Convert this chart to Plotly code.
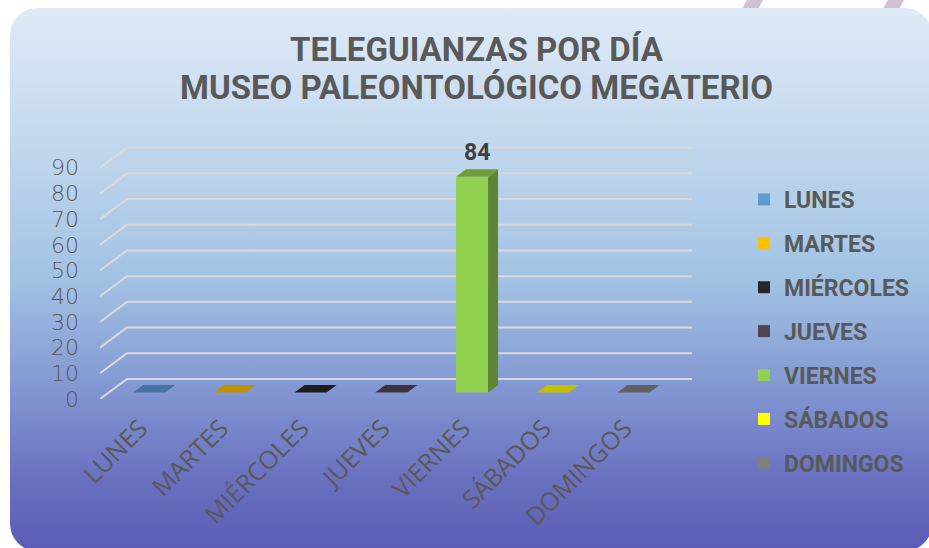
import base64
import plotly.graph_objects as go

# ---------------- data ----------------
categories = ["LUNES", "MARTES", "MIÉRCOLES", "JUEVES", "VIERNES", "SÁBADOS", "DOMINGOS"]
values = [0, 0, 0, 0, 84, 0, 0]
colors = ["#5b9bd5", "#ffc000", "#262626", "#4f4454", "#92d050", "#ffff00", "#7f7f7f"]
y_ticks = [0, 10, 20, 30, 40, 50, 60, 70, 80, 90]
title_lines = ["TELEGUIANZAS POR DÍA", "MUSEO PALEONTOLÓGICO MEGATERIO"]

# ---------------- geometry (pseudo-3D) ----------------
W, H = 929, 548
ML, MR, MT, MB = 100, 237, 142, 149
PW, PH = W - ML - MR, H - MT - MB
Y_MAX = 100
DX = 0.3346          # floor depth in category units
DY = 7.8             # floor depth in value units
XO, ZO = 0.109, 2.5  # bar front offset inside floor
BW = 0.397           # bar width
BDX, BDY = 0.124, 2.9  # bar depth


def paper_x(px):
    return (px - ML) / PW


def paper_y(py):
    return (H - MB - py) / PH


def shade(hex_color, f):
    h = hex_color.lstrip("#")
    r, g, b = (int(h[i:i + 2], 16) for i in (0, 2, 4))
    return "rgb(%d,%d,%d)" % (r * f, g * f, b * f)


# ---------------- background card (svg) ----------------
svg = f'''<svg xmlns="http://www.w3.org/2000/svg" width="{W}" height="{H}" viewBox="0 0 {W} {H}" preserveAspectRatio="none">
<defs><linearGradient id="g" x1="0" y1="0" x2="0" y2="1">
<stop offset="0" stop-color="#e0eaf6"/>
<stop offset="0.22" stop-color="#c6daef"/>
<stop offset="0.5" stop-color="#a2c2e3"/>
<stop offset="0.7" stop-color="#8297d2"/>
<stop offset="0.86" stop-color="#6b72c1"/>
<stop offset="1" stop-color="#5a5cb4"/>
</linearGradient></defs>
<rect x="0" y="0" width="{W}" height="{H}" fill="#ffffff"/>
<polygon points="747,0 763,0 758,9 742,9" fill="#cfc2d3"/>
<polygon points="888,0 904,0 899,9 883,9" fill="#cfc2d3"/>
<rect x="10" y="8" width="922" height="543" rx="27" ry="27" fill="url(#g)"/>
</svg>'''
svg_uri = "data:image/svg+xml;base64," + base64.b64encode(svg.encode("utf-8")).decode("ascii")

fig = go.Figure()

# front faces as bars (also give the legend)
for i, (cat, v, c) in enumerate(zip(categories, values, colors)):
    fig.add_trace(go.Bar(
        x=[i + XO], y=[v], base=[ZO], width=[BW],
        name=cat, legendgroup=cat,
        marker=dict(color=c, line=dict(width=0)),
        hoverinfo="skip",
    ))

# side and top faces
for i, (cat, v, c) in enumerate(zip(categories, values, colors)):
    x0 = i + XO - BW / 2
    x1 = i + XO + BW / 2
    y0 = ZO
    y1 = ZO + v
    if v > 0:
        fig.add_trace(go.Scatter(
            x=[x1, x1 + BDX, x1 + BDX, x1, x1],
            y=[y0, y0 + BDY, y1 + BDY, y1, y0],
            fill="toself", fillcolor=shade(c, 0.64), mode="lines",
            line=dict(width=0, color=shade(c, 0.64)),
            showlegend=False, hoverinfo="skip", legendgroup=cat,
        ))
    fig.add_trace(go.Scatter(
        x=[x0, x1, x1 + BDX, x0 + BDX, x0],
        y=[y1, y1, y1 + BDY, y1 + BDY, y1],
        fill="toself", fillcolor=shade(c, 0.76), mode="lines",
        line=dict(width=0, color=shade(c, 0.76)),
        showlegend=False, hoverinfo="skip", legendgroup=cat,
    ))

# back wall grid lines (shapes below traces)
shapes = []
x_start = -0.5
x_end = len(categories) - 0.5 + DX
for t in y_ticks:
    path = "M %f,%f L %f,%f L %f,%f" % (x_start, t, x_start + DX, t + DY, x_end, t + DY)
    shapes.append(dict(type="path", path=path, xref="x", yref="y", layer="below",
                       line=dict(color="#d9d9d9", width=2)))

annotations = []
# data labels
for i, v in enumerate(values):
    if v > 0:
        annotations.append(dict(
            x=i + XO + BDX / 2, y=v + ZO + BDY, xref="x", yref="y",
            text=str(v), showarrow=False, yanchor="bottom", yshift=1,
            font=dict(family="Roboto", size=23, color="#404040", weight="bold"),
        ))
# title lines
for line, cy in zip(title_lines, [50, 87]):
    annotations.append(dict(
        x=paper_x(476.5), y=paper_y(cy), xref="paper", yref="paper",
        text=line, showarrow=False, xanchor="center", yanchor="middle",
        font=dict(family="Roboto", size=33, color="#595959", weight="bold"),
    ))

fig.update_layout(
    width=W, height=H,
    margin=dict(l=ML, r=MR, t=MT, b=MB, pad=0),
    paper_bgcolor="#ffffff",
    plot_bgcolor="rgba(0,0,0,0)",
    barmode="overlay",
    showlegend=True,
    legend=dict(
        x=paper_x(744), y=paper_y(178), xanchor="left", yanchor="top",
        orientation="v", bgcolor="rgba(0,0,0,0)", tracegroupgap=11,
        maxheight=400,
        font=dict(family="Roboto", size=23, color="#595959", weight="bold"),
        itemclick=False, itemdoubleclick=False,
    ),
    xaxis=dict(
        range=[x_start, x_end], tickvals=list(range(len(categories))), ticktext=categories,
        tickangle=-45, showgrid=False, zeroline=False, showline=False, ticks="",
        ticklabelstandoff=9, fixedrange=True,
        tickfont=dict(family="Open Sans", size=25, color="#595959"),
    ),
    yaxis=dict(
        range=[0, Y_MAX], tickvals=y_ticks, showgrid=False, zeroline=False, showline=False,
        ticks="", ticklabelstandoff=20, fixedrange=True,
        tickfont=dict(family="DejaVu Sans", size=22, color="#595959", weight=300),
    ),
    shapes=shapes,
    annotations=annotations,
    images=[dict(
        source=svg_uri, xref="paper", yref="paper",
        x=paper_x(0), y=paper_y(0), sizex=W / PW, sizey=H / PH,
        xanchor="left", yanchor="top", sizing="stretch", layer="below",
    )],
)

fig.write_html("out.html", config={"displayModeBar": False},
               post_script="document.body.style.margin='0';")
